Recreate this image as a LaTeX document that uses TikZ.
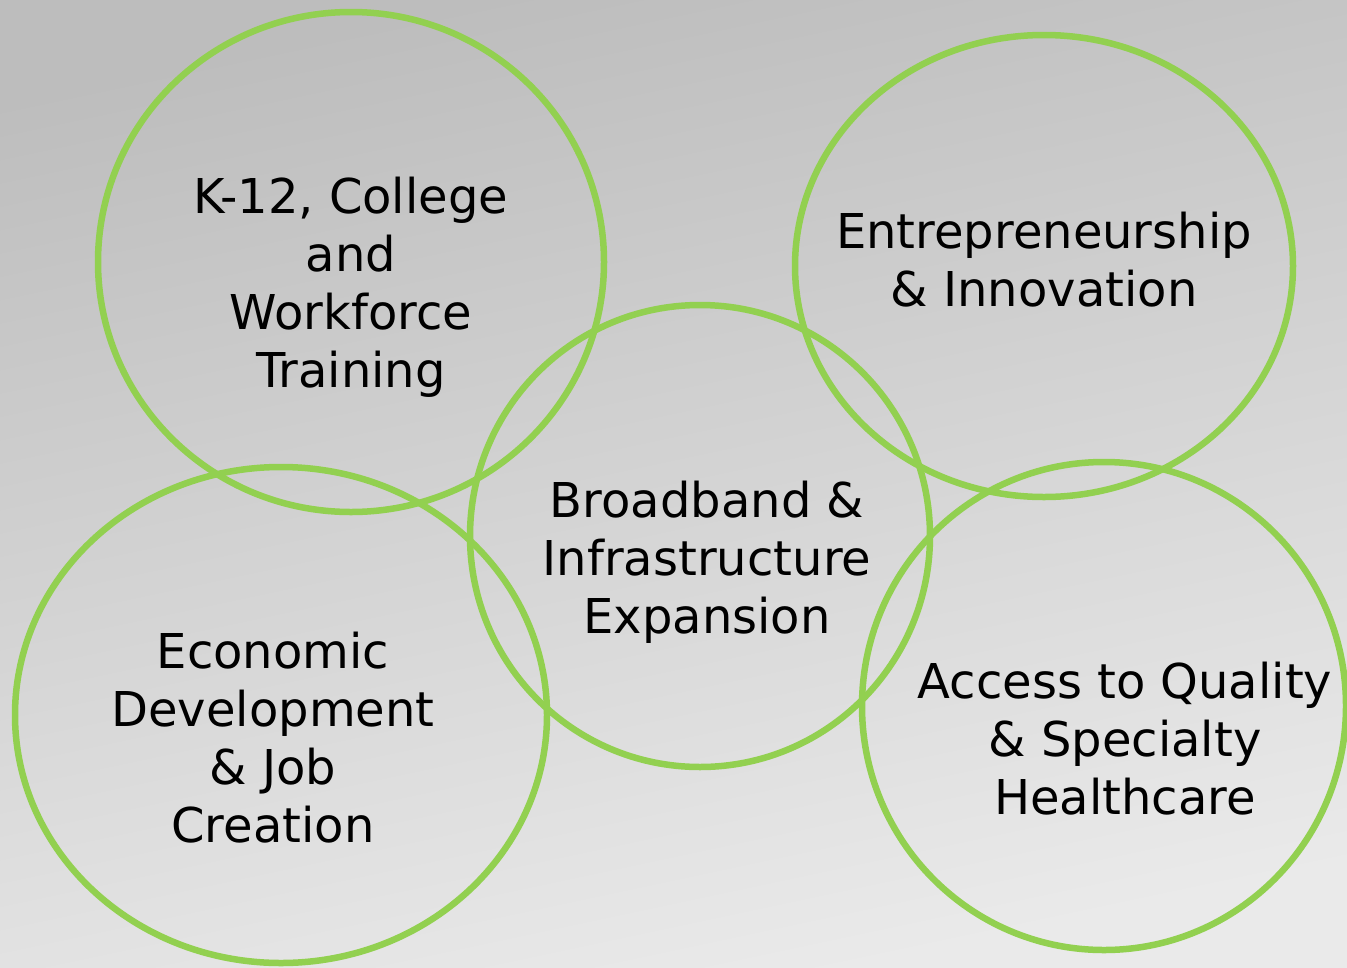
\documentclass[tikz,border=0pt]{standalone}
\usepackage{fontspec}
\setmainfont{DejaVu Sans}
\definecolor{ringgreen}{HTML}{92D050}
\definecolor{bgtop}{HTML}{BDBDBD}
\definecolor{bgbot}{HTML}{EAEAEA}
\begin{document}
\begin{tikzpicture}[x=1pt,y=-1pt,
  ring/.style={draw=ringgreen,line width=6.5pt},
  label/.style={align=center,font=\fontsize{48pt}{58pt}\selectfont,text=black,inner sep=0pt}]
\shade[top color=bgtop,bottom color=bgbot,shading angle=12] (0,0) rectangle (1347,967);
\useasboundingbox (0,0) rectangle (1347,967);
\draw[ring] (351,262) ellipse [x radius=253, y radius=250];
\draw[ring] (1044,266) ellipse [x radius=249, y radius=231];
\draw[ring] (700,536) ellipse [x radius=230, y radius=231];
\draw[ring] (281,715) ellipse [x radius=266, y radius=248];
\draw[ring] (1104,706) ellipse [x radius=242, y radius=244];
\node[label] (k12) at (351,287) {K-12, College\\and\\Workforce\\Training};
\node[label] (ent) at (1044,260) {Entrepreneurship\\\& Innovation};
\node[label] (brd) at (707,562) {Broadband \&\\Infrastructure\\Expansion};
\node[label] (eco) at (273,738) {Economic\\Development\\\& Job\\Creation};
\node[label] (acc) at (1125,739) {Access to Quality\\\& Specialty\\Healthcare};
\end{tikzpicture}
\end{document}
